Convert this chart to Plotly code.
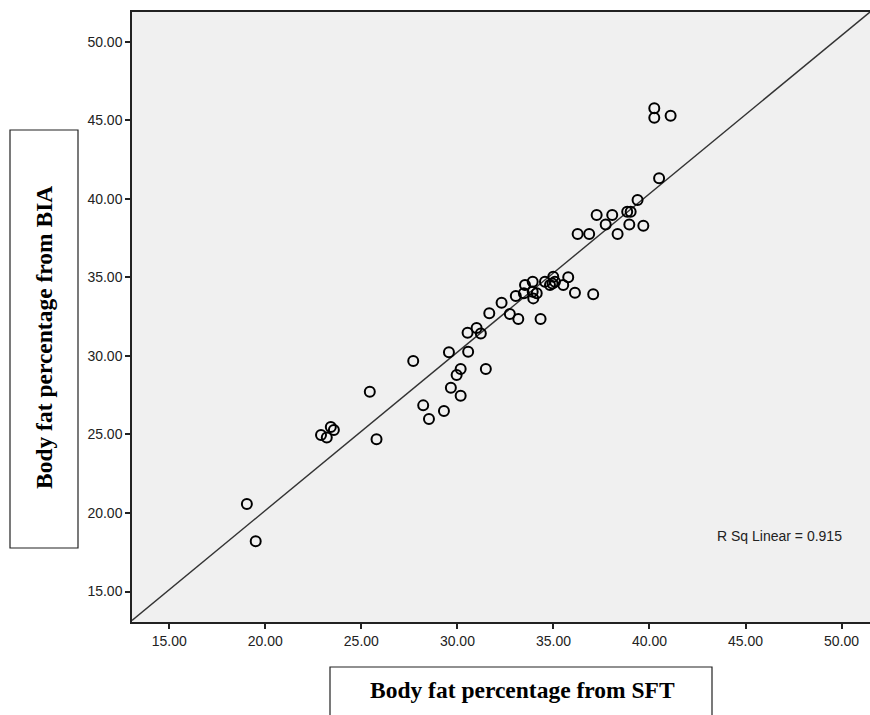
import plotly.graph_objects as go
import numpy as np

# Data
sft = [19.04, 19.50, 22.90, 23.20, 23.41, 23.57, 25.44, 25.79, 27.70, 28.22,
       28.52, 29.30, 29.56, 29.66, 29.96, 30.17, 30.17, 30.53, 30.56, 31.00,
       31.22, 31.48, 31.66, 32.30, 32.73, 33.17, 33.04, 33.52, 33.46, 33.92,
       33.92, 33.95, 34.13, 34.33, 34.56, 34.82, 34.99, 35.08, 34.95, 35.51,
       35.77, 36.12, 37.07, 36.26, 36.86, 38.34, 37.72, 38.95, 39.68, 37.25,
       38.06, 38.84, 39.02, 39.38, 40.50, 40.25, 40.25, 41.10]
bia = [20.57, 18.20, 24.96, 24.80, 25.47, 25.28, 27.72, 24.69, 29.67, 26.85,
       25.98, 26.49, 30.23, 27.97, 28.78, 29.16, 27.46, 31.47, 30.26, 31.77,
       31.43, 29.16, 32.71, 33.38, 32.66, 32.35, 33.81, 34.51, 33.98, 34.72,
       34.08, 33.66, 33.98, 32.35, 34.72, 34.51, 35.04, 34.72, 34.60, 34.51,
       35.00, 34.02, 33.92, 37.76, 37.76, 37.76, 38.37, 38.37, 38.28, 38.97,
       38.97, 39.18, 39.18, 39.92, 41.30, 45.76, 45.16, 45.29]

fit_slope = 1.008
fit_intercept = 0.0
r_sq_label = "R Sq Linear = 0.915"
tick_values = [15, 20, 25, 30, 35, 40, 45, 50]
x_title = "Body fat percentage from SFT"
y_title = "Body fat percentage from BIA"

x_range = [13.06, 51.48]
y_range = [13.06, 51.89]

line_x = np.array(x_range)
line_y = fit_intercept + fit_slope * line_x

fig = go.Figure()
fig.add_trace(go.Scatter(x=line_x, y=line_y, mode="lines",
                         line=dict(color="#333333", width=1.4),
                         hoverinfo="skip", showlegend=False))
fig.add_trace(go.Scatter(x=sft, y=bia, mode="markers",
                         marker=dict(symbol="circle-open", size=10, color="black",
                                     line=dict(width=2, color="black")),
                         showlegend=False))

W, H = 870, 715
L, R, T, B = 132, 0, 12, 93
pw, ph = W - L - R, H - T - B

def px(xp):
    return (xp - L) / pw

def py(yp):
    return (H - B - yp) / ph

tickfont = dict(family="Arial, Liberation Sans, sans-serif", size=14, color="#222222")
axis_common = dict(showline=True, linecolor="#222222", linewidth=1.5,
                   ticks="outside", ticklen=5, tickwidth=1.5, tickcolor="#222222",
                   showgrid=False, zeroline=False, tickformat=".2f",
                   tickvals=tick_values, tickfont=tickfont)

serif = "Liberation Serif, Times New Roman, serif"

fig.update_layout(
    width=W, height=H,
    margin=dict(l=L, r=R, t=T, b=B),
    paper_bgcolor="white", plot_bgcolor="#f0f0f0",
    xaxis=dict(range=x_range, mirror=True, **axis_common),
    yaxis=dict(range=y_range, mirror=False, **axis_common),
    shapes=[
        dict(type="rect", xref="paper", yref="paper",
             x0=px(10), x1=px(78), y0=py(548), y1=py(130),
             line=dict(color="#222222", width=1.2), fillcolor="white", layer="below"),
        dict(type="rect", xref="paper", yref="paper",
             x0=px(330), x1=px(712), y0=py(730), y1=py(667),
             line=dict(color="#222222", width=1.2), fillcolor="white", layer="below"),
    ],
    annotations=[
        dict(text="<b>" + y_title + "</b>", xref="paper", yref="paper", x=px(44), y=py(338),
             showarrow=False, textangle=-90, xanchor="center", yanchor="middle",
             font=dict(family=serif, size=23.5, color="black")),
        dict(text="<b>" + x_title + "</b>", xref="paper", yref="paper", x=px(522), y=py(690),
             showarrow=False, xanchor="center", yanchor="middle",
             font=dict(family=serif, size=23.5, color="black")),
        dict(text=r_sq_label, xref="paper", yref="paper", x=px(779), y=py(536),
             showarrow=False, xanchor="center", yanchor="middle",
             font=dict(family="Arial, Liberation Sans, sans-serif", size=14,
                       color="#222222")),
    ],
)

post = (
    "document.body.style.margin='0';"
    "document.documentElement.style.overflow='hidden';"
    "document.body.style.overflow='hidden';"
    "var d=document.querySelector('.plotly-graph-div');"
    "d.style.position='fixed';d.style.top='0px';d.style.left='0px';"
)

fig.write_html("out.html", config={"displayModeBar": False}, post_script=post)
